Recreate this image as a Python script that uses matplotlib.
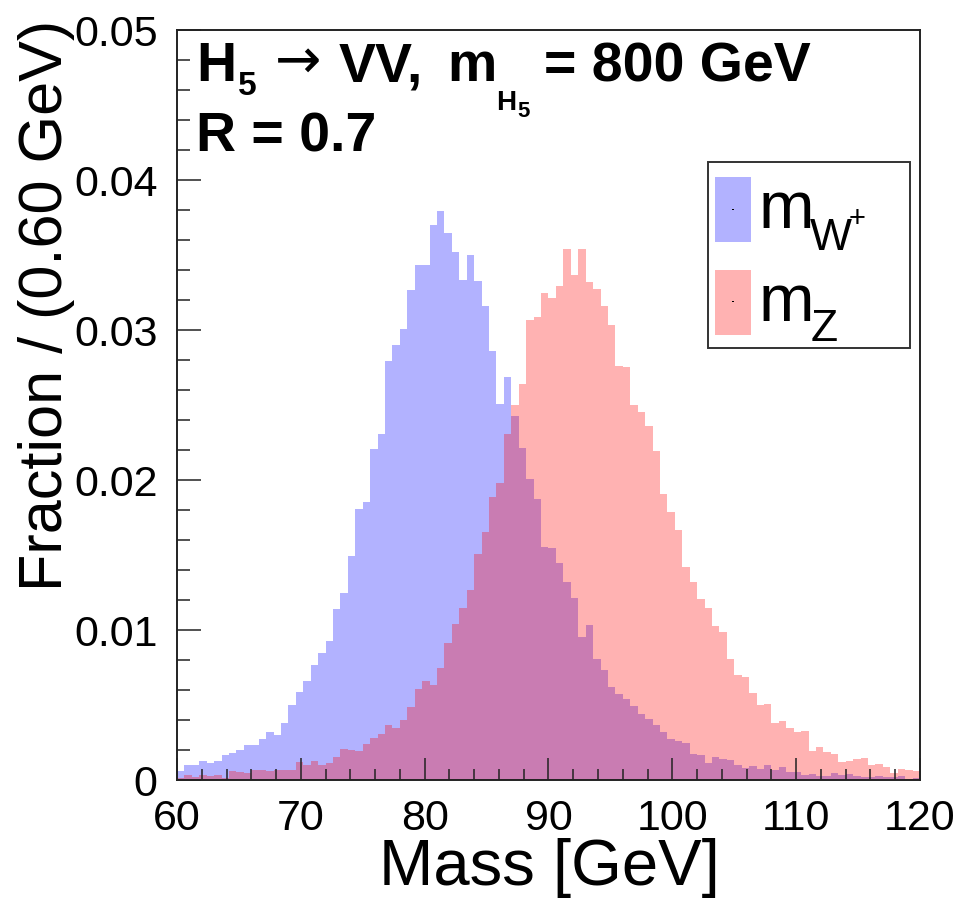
import numpy as np
import matplotlib
matplotlib.use("Agg")
import matplotlib.pyplot as plt
from matplotlib.patches import Rectangle
from matplotlib.ticker import MultipleLocator, FixedLocator

# ---------------- data ----------------
x_min, x_max, n_bins = 60.0, 120.0, 100

frac_W = [
    0.00062, 0.00098, 0.00103, 0.00127, 0.00111, 0.00127, 0.00165, 0.00181, 0.00202, 0.00235,
    0.00233, 0.00271, 0.00323, 0.00302, 0.00380, 0.00499, 0.00589, 0.00659, 0.00767, 0.00850,
    0.00930, 0.01140, 0.01248, 0.01491, 0.01809, 0.01853, 0.02207, 0.02307, 0.02791, 0.02899,
    0.03005, 0.03266, 0.03434, 0.03434, 0.03703, 0.03793, 0.03646, 0.03519, 0.03336, 0.03501,
    0.03328, 0.03158, 0.02858, 0.02504, 0.02685, 0.02426, 0.02214, 0.02005, 0.01871, 0.01556,
    0.01545, 0.01446, 0.01317, 0.01213, 0.00956, 0.01034, 0.00804, 0.00731, 0.00622, 0.00571,
    0.00540, 0.00496, 0.00438, 0.00404, 0.00366, 0.00317, 0.00276, 0.00259, 0.00247, 0.00172,
    0.00167, 0.00116, 0.00153, 0.00138, 0.00136, 0.00097, 0.00077, 0.00093, 0.00071, 0.00102,
    0.00067, 0.00087, 0.00053, 0.00056, 0.00031, 0.00042, 0.00029, 0.00029, 0.00047, 0.00033,
    0.00042, 0.00024, 0.00020, 0.00020, 0.00024, 0.00020, 0.00020, 0.00027, 0.00007, 0.00011,
]

frac_Z = [
    0.00016, 0.00036, 0.00023, 0.00036, 0.00028, 0.00036, 0.00016, 0.00060, 0.00052, 0.00050,
    0.00065, 0.00067, 0.00060, 0.00067, 0.00070, 0.00067, 0.00119, 0.00098, 0.00124, 0.00098,
    0.00114, 0.00152, 0.00204, 0.00202, 0.00196, 0.00243, 0.00282, 0.00305, 0.00364, 0.00344,
    0.00403, 0.00486, 0.00610, 0.00659, 0.00636, 0.00749, 0.00915, 0.01041, 0.01145, 0.01266,
    0.01504, 0.01656, 0.01884, 0.01979, 0.02307, 0.02501, 0.02638, 0.03070, 0.03090, 0.03245,
    0.03215, 0.03293, 0.03542, 0.03368, 0.03538, 0.03322, 0.03276, 0.03157, 0.03034, 0.02758,
    0.02753, 0.02499, 0.02453, 0.02363, 0.02191, 0.01910, 0.01787, 0.01668, 0.01419, 0.01322,
    0.01206, 0.01145, 0.01027, 0.00988, 0.00806, 0.00702, 0.00685, 0.00580, 0.00500, 0.00507,
    0.00380, 0.00393, 0.00347, 0.00320, 0.00327, 0.00191, 0.00218, 0.00187, 0.00171, 0.00122,
    0.00129, 0.00142, 0.00147, 0.00098, 0.00107, 0.00087, 0.00047, 0.00073, 0.00064, 0.00060,
]

x_ticks = [60, 70, 80, 90, 100, 110, 120]
y_ticks = [0, 0.01, 0.02, 0.03, 0.04, 0.05]
y_tick_labels = ["0", "0.01", "0.02", "0.03", "0.04", "0.05"]

# ---------------- figure ----------------
W, H = 979, 919
plt.rcParams['font.family'] = ['Liberation Sans', 'DejaVu Sans']
fig = plt.figure(figsize=(W / 100, H / 100), dpi=100)

def fx(px):
    return px / W

def fy(py):
    return 1 - py / H

ax = fig.add_axes([fx(177), fy(780), fx(920) - fx(177), fy(30) - fy(780)])

edges = np.linspace(x_min, x_max, n_bins + 1)
ax.stairs(frac_W, edges, fill=True, color='blue', alpha=0.3, linewidth=0, zorder=1)
ax.stairs(frac_Z, edges, fill=True, color='red', alpha=0.3, linewidth=0, zorder=1.1)

ax.set_xlim(x_min, x_max)
ax.set_ylim(0, 0.05)

ax.xaxis.set_major_locator(FixedLocator(x_ticks))
ax.xaxis.set_minor_locator(MultipleLocator(2))
ax.yaxis.set_major_locator(FixedLocator(y_ticks))
ax.yaxis.set_minor_locator(MultipleLocator(0.002))
ax.set_yticklabels(y_tick_labels)

ax.tick_params(axis='both', which='both', direction='in', top=False, right=False,
               colors='#222222', labelcolor='black', width=1.1)
ax.tick_params(axis='x', which='major', length=16, labelsize=31, pad=14)
ax.tick_params(axis='x', which='minor', length=8)
ax.tick_params(axis='y', which='major', length=17, labelsize=31, pad=14)
ax.tick_params(axis='y', which='minor', length=9)

for s in ax.spines.values():
    s.set_linewidth(1.4)
    s.set_color('#222222')

# axis titles
fig.text(fx(549), fy(868), 'Mass [GeV]', fontsize=47, ha='center', va='center')
fig.text(fx(47), fy(20), 'Fraction / (0.60 GeV)', fontsize=44, rotation=90,
         ha='center', va='top')

# header text, pieces placed at their positions
bold = ['Liberation Sans', 'DejaVu Sans']
S = 40
header = [
    # text, left px, baseline px, size, weight, family
    ('H', 196, 81, S, 'bold', bold),
    ('5', 238, 95, 24, 'bold', bold),
    ('\u2192', 275, 78, 40, 'normal', ['DejaVu Sans']),
    ('VV,', 339, 81, S, 'bold', bold),
    ('m', 447, 81, S, 'bold', bold),
    ('H', 496, 110, 20, 'bold', bold),
    ('5', 517, 117, 16, 'bold', bold),
    ('= 800 GeV', 544, 81, S, 'bold', bold),
    ('R = 0.7', 196, 151, S, 'bold', bold),
]
for txt, xl, yb, size, weight, fam in header:
    fig.text(fx(xl), fy(yb), txt, fontsize=size, fontweight=weight, family=fam,
             ha='left', va='baseline')

# legend
fig.patches.append(Rectangle((fx(708), fy(348)), fx(910) - fx(708), fy(162) - fy(348),
                             transform=fig.transFigure, fill=True, facecolor='white',
                             edgecolor='#333333', linewidth=1.4, zorder=5))
fig.patches.append(Rectangle((fx(715), fy(242)), fx(751) - fx(715), fy(177) - fy(242),
                             transform=fig.transFigure, facecolor='blue', alpha=0.3,
                             linewidth=0, zorder=6))
fig.patches.append(Rectangle((fx(715), fy(335)), fx(751) - fx(715), fy(270) - fy(335),
                             transform=fig.transFigure, facecolor='red', alpha=0.3,
                             linewidth=0, zorder=6))
fig.patches.append(Rectangle((fx(732.5), fy(210)), 1.2 / W, 1.2 / H,
                             transform=fig.transFigure, facecolor='black', linewidth=0, zorder=7))
fig.patches.append(Rectangle((fx(732.5), fy(302)), 1.2 / W, 1.2 / H,
                             transform=fig.transFigure, facecolor='black', linewidth=0, zorder=7))
fig.text(fx(759), fy(228), 'm', fontsize=48, ha='left', va='baseline', zorder=7)
fig.text(fx(810), fy(250), 'W', fontsize=32, ha='left', va='baseline', zorder=7)
fig.text(fx(849), fy(227), '+', fontsize=21, ha='left', va='baseline', zorder=7)
fig.text(fx(759), fy(321), 'm', fontsize=48, ha='left', va='baseline', zorder=7)
fig.text(fx(811), fy(341), 'Z', fontsize=32, ha='left', va='baseline', zorder=7)

fig.savefig('out.png', dpi=100)
